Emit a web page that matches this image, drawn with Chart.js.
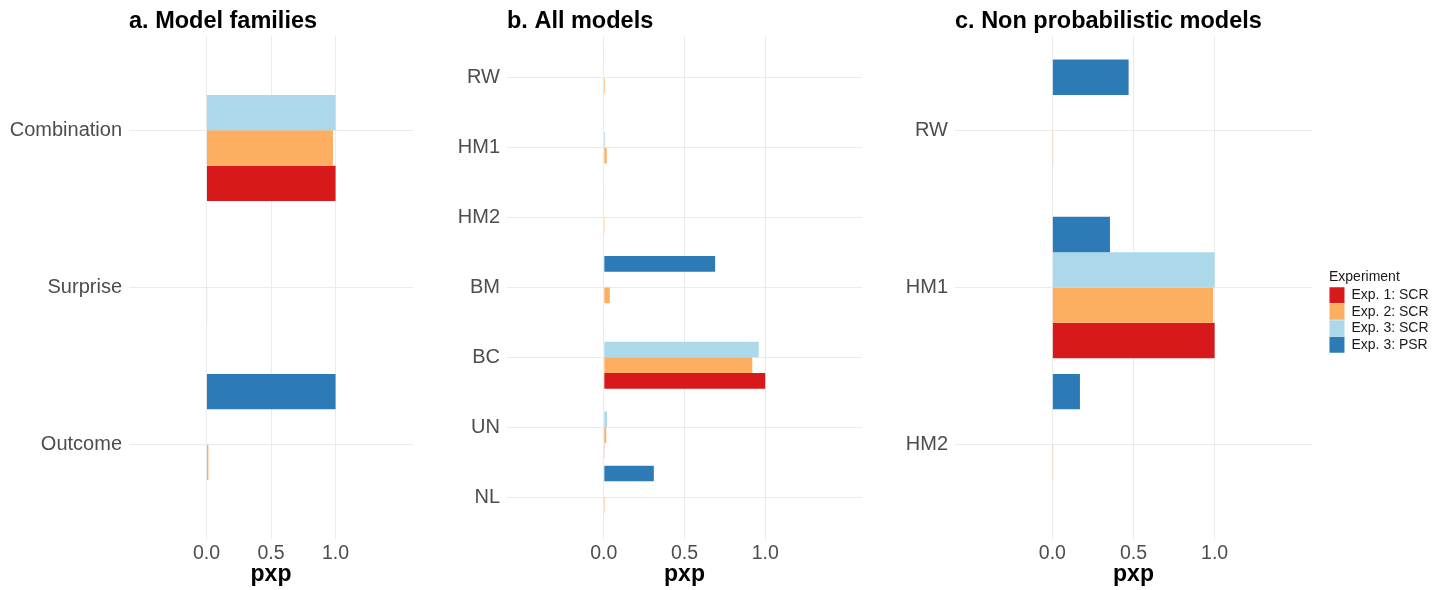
<!DOCTYPE html>
<html>
<head>
<meta charset="utf-8">
<title>pxp by experiment</title>
<script src="https://cdn.jsdelivr.net/npm/chart.js@4.4.1/dist/chart.umd.min.js"></script>
<style>
  body { margin: 0; background: #fff; }
  #wrap { position: relative; width: 1440px; height: 590px; }
  canvas { position: absolute; top: 0; }
</style>
</head>
<body>
<div id="wrap">
  <canvas id="panelA" width="440" height="590" style="left:0"></canvas>
  <canvas id="panelB" width="430" height="590" style="left:440px"></canvas>
  <canvas id="panelC" width="560" height="590" style="left:880px"></canvas>
</div>
<script>
const expLabels = ["Exp. 1: SCR", "Exp. 2: SCR", "Exp. 3: SCR", "Exp. 3: PSR"];
const expColors = ["#D7191C", "#FDAE61", "#ABD9E9", "#2C7BB6"];
const pxpTicks = [0, 0.5, 1.0];

const familyLabels = ["Combination", "Surprise", "Outcome"];
const familySCR1 = [1.0, 0, 0];
const familySCR2 = [0.98, 0.005, 0.015];
const familySCR3 = [1.0, 0, 0];
const familyPSR = [0, 0, 1.0];

const modelLabels = ["RW", "HM1", "HM2", "BM", "BC", "UN", "NL"];
const modelSCR1 = [0, 0, 0, 0, 1.0, 0.004, 0];
const modelSCR2 = [0.007, 0.018, 0.005, 0.037, 0.92, 0.015, 0.006];
const modelSCR3 = [0, 0.008, 0, 0, 0.96, 0.02, 0];
const modelPSR = [0.003, 0.003, 0.003, 0.69, 0.003, 0.003, 0.31];

const nonProbLabels = ["RW", "HM1", "HM2"];
const nonProbSCR1 = [0.003, 1.0, 0];
const nonProbSCR2 = [0.005, 0.99, 0.005];
const nonProbSCR3 = [0, 1.0, 0];
const nonProbPSR = [0.47, 0.355, 0.17];

const gridColor = "#EBEBEB";
const textColor = "#4D4D4D";

Chart.defaults.font.family = "'Liberation Sans', Arial, Helvetica, sans-serif";

// dodge order: PSR on top, Exp. 1 at the bottom of each group
function makeDatasets(series) {
  return [3, 2, 1, 0].map(k => ({
    label: expLabels[k],
    data: series[k].map((v, i) => ({ x: v, y: i })),
    backgroundColor: expColors[k],
    borderWidth: 0,
    yAxisID: "y",
    categoryPercentage: 0.9,
    barPercentage: 1.0
  }));
}

function drawPanel(id, title, labels, series, yWidth, padRight, withLegend) {
  const scales = {
    x: {
      type: "linear",
      min: -0.6,
      max: 1.6,
      afterBuildTicks: s => { s.ticks = pxpTicks.map(v => ({ value: v })); },
      afterFit: s => { s.height = 51; },
      grid: { color: gridColor, drawTicks: false },
      border: { display: false },
      ticks: { color: textColor, font: { size: 19.5 }, padding: 3, callback: v => v.toFixed(1) },
      title: { display: true, text: "pxp", color: "#000", font: { size: 23, weight: "bold" }, padding: { top: 0, bottom: 2 } }
    },
    y: {
      type: "linear",
      reverse: true,
      offset: false,
      min: -0.6,
      max: labels.length - 0.4,
      afterBuildTicks: s => { s.ticks = labels.map((c, i) => ({ value: i })); },
      afterFit: s => { s.width = yWidth; },
      grid: { color: gridColor, drawTicks: false, offset: false },
      border: { display: false },
      ticks: { color: textColor, font: { size: 20 }, padding: 7, autoSkip: false, callback: v => labels[v] }
    }
  };
  if (withLegend) {
    // empty strip between the panel and the legend
    scales.gap = {
      type: "linear",
      position: "right",
      grid: { display: false },
      border: { display: false },
      ticks: { display: false },
      afterFit: s => { s.width = 17; }
    };
  }

  new Chart(id, {
    type: "bar",
    data: { datasets: makeDatasets(series) },
    options: {
      indexAxis: "y",
      responsive: false,
      animation: false,
      events: [],
      devicePixelRatio: 1,
      layout: { padding: { left: 0, right: padRight, top: 0, bottom: 0 } },
      scales: scales,
      plugins: {
        title: {
          display: true,
          text: title,
          align: "start",
          fullSize: false,
          color: "#000",
          font: { size: 23.5, weight: "bold" },
          padding: { top: 7, bottom: 0.8 }
        },
        legend: {
          display: withLegend,
          position: "right",
          reverse: true,
          align: "center",
          maxWidth: 200,
          title: {
            display: true,
            text: "Experiment",
            position: "start",
            color: "#1a1a1a",
            font: { size: 14 },
            padding: { top: 33, bottom: 0 }
          },
          labels: { boxWidth: 15, boxHeight: 16, padding: 0.5, color: "#1a1a1a", font: { size: 14 } }
        },
        tooltip: { enabled: false }
      }
    }
  });
}

drawPanel("panelA", "a. Model families", familyLabels,
  [familySCR1, familySCR2, familySCR3, familyPSR], 129, 27, false);
drawPanel("panelB", "b. All models", modelLabels,
  [modelSCR1, modelSCR2, modelSCR3, modelPSR], 67, 8, false);
drawPanel("panelC", "c. Non probabilistic models", nonProbLabels,
  [nonProbSCR1, nonProbSCR2, nonProbSCR3, nonProbPSR], 75, 1.5, true);
</script>
</body>
</html>
